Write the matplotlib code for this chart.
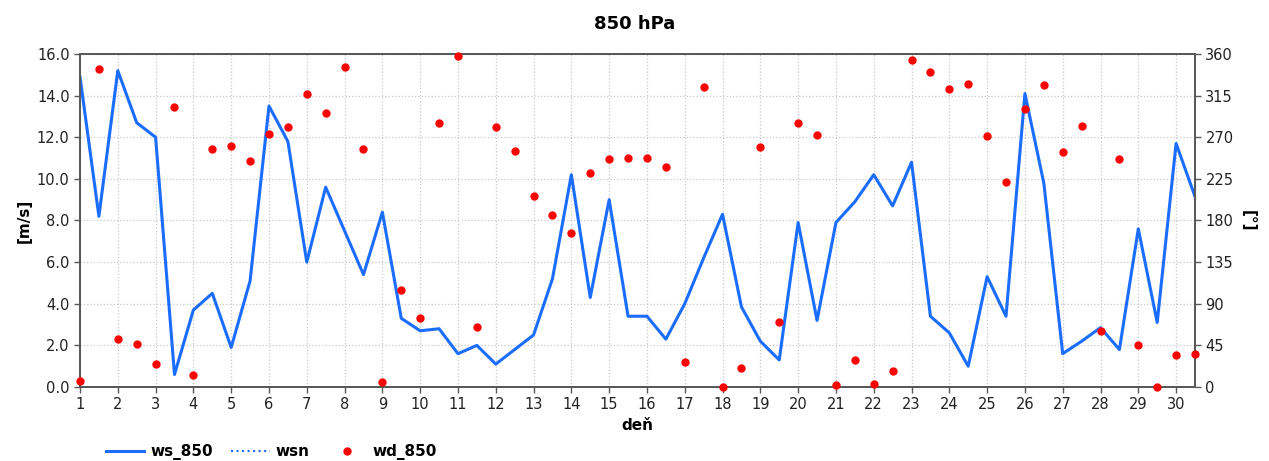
import numpy as np
import matplotlib
matplotlib.use("Agg")
import matplotlib.pyplot as plt
from matplotlib.ticker import FormatStrFormatter

# time axis: day of month, half-day steps
days = [1 + 0.5 * i for i in range(60)]

ws_850 = [14.9, 8.2, 15.2, 12.7, 12.0, 0.6, 3.7, 4.5, 1.9, 5.1,
          13.5, 11.8, 6.0, 9.6, 7.5, 5.4, 8.4, 3.3, 2.7, 2.8,
          1.6, 2.0, 1.1, 1.8, 2.5, 5.2, 10.2, 4.3, 9.0, 3.4,
          3.4, 2.3, 4.0, 6.2, 8.3, 3.85, 2.2, 1.3, 7.9, 3.2,
          7.9, 8.9, 10.2, 8.7, 10.8, 3.4, 2.6, 1.0, 5.3, 3.4,
          14.1, 9.8, 1.6, 2.2, 2.85, 1.8, 7.6, 3.1, 11.7, 9.15]

wd_850 = [7, 344, 52, 46, 25, 303, 13, 257, 261, 244,
          274, 281, 317, 296, 346, 257, 5, 105, 75, 285,
          358, 65, 281, 255, 206, 186, 167, 231, 246, 248,
          248, 238, 27, 324, 0, 21, 259, 70, 285, 272,
          2, 29, 3, 17, 353, 340, 322, 328, 271, 222,
          301, 327, 254, 282, 61, 247, 45, 0, 35, 36]

wsn = []  # empty series (legend only)

left_ticks = np.arange(0, 16.1, 2.0)
right_ticks = np.arange(0, 361, 45)
x_ticks = list(range(1, 31))

plt.rcParams['font.family'] = ['DejaVu Sans']

fig = plt.figure(figsize=(12.69, 4.61), dpi=100)
ax = fig.add_axes([80 / 1269, 1 - 387 / 461, (1195 - 80) / 1269, (387 - 54) / 461])
ax2 = ax.twinx()

line_color = '#1a6dff'
spine_color = '#595959'

l1, = ax.plot(days, ws_850, color=line_color, lw=2.2, zorder=3, label='ws_850')
l2, = ax.plot(days[:len(wsn)], wsn, color=line_color, lw=1.5, ls=':', label='wsn')
l3, = ax2.plot(days, wd_850, ls='none', marker='o', ms=6, color='#ff0000',
               markeredgewidth=0, label='wd_850', zorder=4, clip_on=False)

ax.set_xlim(1, 30.5)
ax.set_ylim(0, 16)
ax2.set_ylim(0, 360)
ax.set_xticks(x_ticks)
ax.set_yticks(left_ticks)
ax2.set_yticks(right_ticks)
ax.yaxis.set_major_formatter(FormatStrFormatter('%.1f'))

ax.grid(True, color='#c8c8c8', ls=':', lw=0.9)
ax.set_axisbelow(True)

for a in (ax, ax2):
    for s in a.spines.values():
        s.set_color(spine_color)
        s.set_linewidth(1.4)
    a.tick_params(colors='#222222', labelsize=10.5, direction='out', length=4,
                  width=1.0)
    a.tick_params(axis='both', color=spine_color)

ax.set_ylabel('[m/s]', fontsize=11, fontweight='bold', labelpad=4)
ax2.set_ylabel('[°]', fontsize=11, fontweight='bold', rotation=270,
               labelpad=16)
ax.set_xlabel('deň', fontsize=11, fontweight='bold', labelpad=4)
fig.text(0.5, 1 - 24 / 461, '850 hPa', ha='center', va='center',
         fontsize=13, fontweight='bold')

fig.legend(handles=[l1, l2, l3], loc='center left',
           bbox_to_anchor=(100 / 1269, 1 - 452 / 461), ncol=3, frameon=False,
           prop={'weight': 'bold', 'size': 11},
           handlelength=2.5, columnspacing=1.2, handletextpad=0.4,
           borderaxespad=0)

fig.savefig('out.png', dpi=100)
